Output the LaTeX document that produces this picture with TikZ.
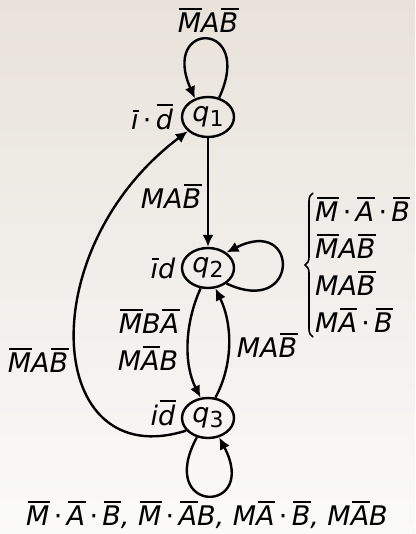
\documentclass[tikz,border=0pt]{standalone}
\usepackage{fontspec}
\setmainfont{DejaVu Sans}
\usetikzlibrary{arrows.meta,shapes.geometric,decorations.pathreplacing}
\definecolor{bgtop}{RGB}{232,226,218}
\definecolor{bgbot}{RGB}{250,250,249}
\newcommand{\ob}[1]{\setbox0=\hbox{#1}\leavevmode\vbox{\offinterlineskip\hbox to\wd0{\hskip1.5pt\vrule height2.2pt depth0pt width\dimexpr\wd0-1pt\relax\hss}\kern3pt\box0}}
\newcommand{\cd}{\hspace{0.16em}{\upshape ⋅}\hspace{0.16em}}
\newcommand{\sub}[1]{\raisebox{-5pt}{\fontsize{22}{22}\selectfont\upshape #1}}
\begin{document}
\begin{tikzpicture}[x=1pt,y=-1pt,
  every node/.style={font=\fontsize{27}{32}\selectfont\itshape},
  state/.style={ellipse,draw,line width=2.4pt,minimum width=52pt,minimum height=40pt,inner sep=0pt},
  tr/.style={line width=2.4pt,-{Latex[length=12pt,width=11pt]}},
  lbl/.style={inner sep=0pt}]
\shade[top color=bgtop,bottom color=bgbot] (0,0) rectangle (415,534);
\useasboundingbox (0,0) rectangle (415,534);
% states
\node[state] (q1) at (208,117) {q\sub{1}};
\node[state] (q2) at (208,268) {q\sub{2}};
\node[state] (q3) at (208,418) {q\sub{3}};
% state labels
\node[lbl] (l1) at (152,117) {\ob{ı}\cd\ob{d}};
\node[lbl] (l2) at (163,268) {\ob{ı}d};
\node[lbl] (l3) at (163,413) {i\ob{d}};
% transitions
\draw[tr] (q1.60) .. controls (255,20) and (160,20) .. (q1.125);
\node[lbl] (t11) at (208,20) {\ob{M}A\ob{B}};
\draw[tr] (q1) -- (q2);
\node[lbl] (t12) at (171,196) {MA\ob{B}};
\draw[tr] (q2.-40) .. controls (300,318) and (300,215) .. (q2.40);
\coordinate (bb) at (313,337);
\coordinate (bt) at (313,193);
\draw[line width=1.6pt,decorate,decoration={brace,amplitude=8pt}] (bb) -- (bt);
\node[lbl,anchor=west,align=left,font=\fontsize{27}{37}\selectfont\itshape] (t22) at (315,265)
  {\ob{M}\cd\ob{A}\cd\ob{B}\\ \ob{M}A\ob{B}\\ MA\ob{B}\\ M\ob{A}\cd\ob{B}};
\draw[tr] (q2.-110) .. controls (184,325) and (184,365) .. (q3.110);
\node[lbl] (t23a) at (149,321) {\ob{M}B\ob{A}};
\node[lbl] (t23b) at (148,358) {M\ob{A}B};
\draw[tr] (q3.70) .. controls (233,365) and (233,325) .. (q2.-70);
\node[lbl] (t32) at (267,345) {MA\ob{B}};
\draw[tr] (q3.-150) .. controls (45,475) and (30,250) .. (q1.-145);
\node[lbl] (t31) at (38,360) {\ob{M}A\ob{B}};
\draw[tr] (q3.-120) .. controls (155,515) and (260,515) .. (q3.-60);
\node[lbl] (t33) at (207,515) {\ob{M}\cd\ob{A}\cd\ob{B}, \ob{M}\cd\ob{A}B, M\ob{A}\cd\ob{B}, M\ob{A}B};
\end{tikzpicture}
\end{document}
